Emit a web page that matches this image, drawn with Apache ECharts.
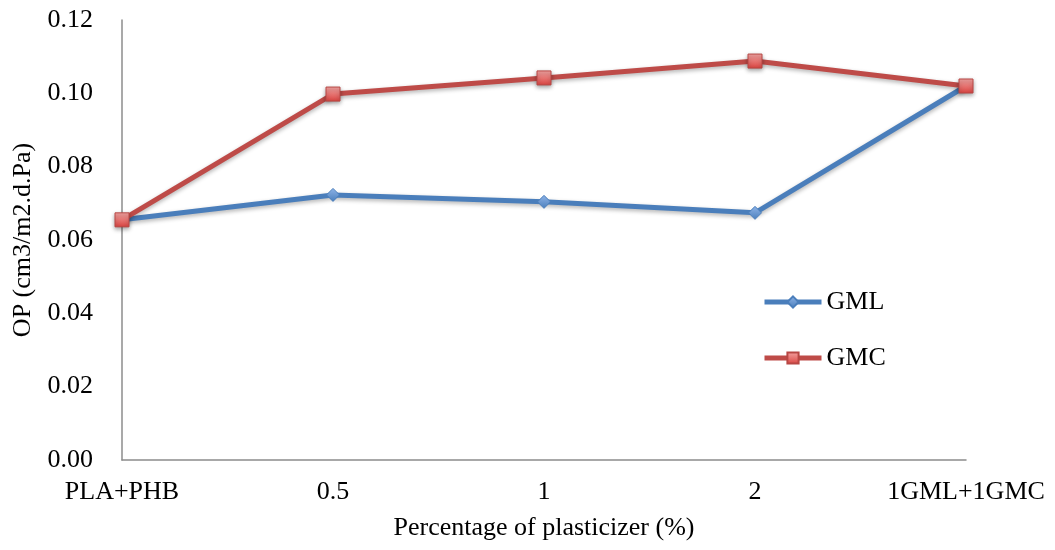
<!DOCTYPE html>
<html>
<head>
<meta charset="utf-8">
<script src="https://cdn.jsdelivr.net/npm/echarts@6/dist/echarts.min.js"></script>
<style>html,body{margin:0;padding:0;background:#fff}#c{width:1055px;height:550px}</style>
</head>
<body>
<div id="c"></div>
<script>
const categories = ['PLA+PHB', '0.5', '1', '2', '1GML+1GMC'];
const gml = [0.0655, 0.0723, 0.0704, 0.0674, 0.1020];
const gmc = [0.0655, 0.0998, 0.1042, 0.1088, 0.1020];
const yTicks = { min: 0, max: 0.12, interval: 0.02 };

const font = 'Liberation Serif';
const chart = echarts.init(document.getElementById('c'), null, { renderer: 'canvas' });
chart.setOption({
  animation: false,
  backgroundColor: '#fff',
  grid: { left: 122, right: 89, top: 20, bottom: 90, containLabel: false, outerBoundsMode: 'none' },
  legend: {
    orient: 'vertical', left: 757, top: 284, itemGap: 30,
    itemWidth: 57, itemHeight: 14,
    lineStyle: { width: 5 },
    textStyle: { fontFamily: font, fontSize: 26, color: '#000' },
    data: ['GML', 'GMC']
  },
  xAxis: {
    type: 'category', data: categories, boundaryGap: false,
    name: 'Percentage of plasticizer (%)', nameLocation: 'middle', nameGap: 55,
    nameTextStyle: { fontFamily: font, fontSize: 26, color: '#000' },
    axisLine: { lineStyle: { color: '#8c8c8c', width: 1.5 } },
    axisTick: { show: false },
    axisLabel: { fontFamily: font, fontSize: 26, color: '#000', margin: 19 },
    splitLine: { show: false }
  },
  yAxis: {
    type: 'value', min: yTicks.min, max: yTicks.max, interval: yTicks.interval,
    name: 'OP (cm3/m2.d.Pa)', nameLocation: 'middle', nameGap: 86,
    nameTextStyle: { fontFamily: font, fontSize: 26, color: '#000' },
    axisLine: { show: true, lineStyle: { color: '#8c8c8c', width: 1.5 } },
    axisTick: { show: false },
    axisLabel: { fontFamily: font, fontSize: 26, color: '#000', margin: 29, formatter: v => v.toFixed(2) },
    splitLine: { show: false }
  },
  series: [
    {
      name: 'GML', type: 'line', data: gml,
      symbol: 'diamond', symbolSize: 13, z: 2,
      lineStyle: { color: '#4a7ebb', width: 5, shadowColor: 'rgba(0,0,0,0.3)', shadowBlur: 4, shadowOffsetY: 2 },
      itemStyle: {
        color: new echarts.graphic.LinearGradient(0, 0, 0, 1, [{ offset: 0, color: '#8fb4e8' }, { offset: 1, color: '#4a7ebb' }]),
        borderColor: '#4a7ebb', borderWidth: 1
      }
    },
    {
      name: 'GMC', type: 'line', data: gmc,
      symbol: 'rect', symbolSize: 14, z: 3,
      lineStyle: { color: '#be4b48', width: 5, shadowColor: 'rgba(0,0,0,0.3)', shadowBlur: 4, shadowOffsetY: 2 },
      itemStyle: {
        color: new echarts.graphic.LinearGradient(0, 0, 0, 1, [{ offset: 0, color: '#f4a6a4' }, { offset: 1, color: '#d9423f' }]),
        borderColor: '#b84744', borderWidth: 1,
        shadowColor: 'rgba(0,0,0,0.35)', shadowBlur: 4, shadowOffsetY: 2
      }
    }
  ]
});
</script>
</body>
</html>
